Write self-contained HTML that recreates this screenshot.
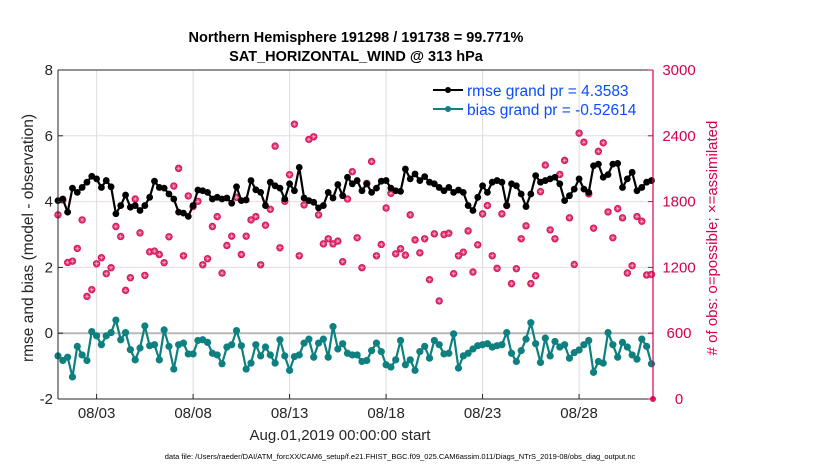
<!DOCTYPE html>
<html><head><meta charset="utf-8"><style>
body{margin:0;background:#fff}
svg{display:block;font-family:"Liberation Sans",Arial,sans-serif}
</style></head><body>
<svg id="chart" width="830" height="470" viewBox="0 0 830 470" xmlns="http://www.w3.org/2000/svg">
<rect width="830" height="470" fill="#fff"/>
<text x="356" y="42" font-size="14.5" font-weight="bold" text-anchor="middle">Northern Hemisphere 191298 / 191738 = 99.771%</text>
<text x="356" y="61" font-size="14.5" font-weight="bold" text-anchor="middle">SAT_HORIZONTAL_WIND @ 313 hPa</text>
<g id="grid"></g>
<g id="marks"></g>
<g id="axes"></g>
<text transform="translate(33,238) rotate(-90)" font-size="15.5" text-anchor="middle" fill="#262626">rmse and bias (model - observation)</text>
<text transform="translate(717,238) rotate(-90)" font-size="15" fill="#d6004f" text-anchor="middle"># of obs: o=possible; ×=assimilated</text>
<text x="340" y="440" font-size="15" text-anchor="middle" fill="#262626">Aug.01,2019 00:00:00 start</text>
<text x="400" y="459" font-size="7.5" text-anchor="middle">data file: /Users/raeder/DAI/ATM_forcXX/CAM6_setup/f.e21.FHIST_BGC.f09_025.CAM6assim.011/Diags_NTrS_2019-08/obs_diag_output.nc</text>
<g id="legend">
<line x1="433" y1="90" x2="463" y2="90" stroke="#000" stroke-width="2"/><circle cx="448" cy="90" r="3" fill="#000"/>
<text x="467" y="96" font-size="15.5" fill="#0a4dff">rmse grand pr = 4.3583</text>
<line x1="433" y1="109" x2="463" y2="109" stroke="#0e8080" stroke-width="2"/><circle cx="448" cy="109" r="3" fill="#0e8080"/>
<text x="467" y="115" font-size="15.5" fill="#0a4dff">bias grand pr = -0.52614</text>
</g>
</svg>
<script>
const rmse=[4.03,4.08,3.68,4.41,4.28,4.43,4.59,4.77,4.69,4.43,4.64,4.45,3.63,3.88,4.2,3.83,3.88,3.73,3.88,4.13,4.62,4.43,4.41,4.23,4.08,3.68,3.65,3.55,3.88,4.35,4.33,4.28,
4.08,4.13,4.08,4.11,3.95,4.45,4.03,4.05,4.64,4.36,4.28,3.88,4.59,4.48,4.41,4.08,4.54,4.33,5.04,4.11,4.03,3.98,3.81,3.88,4.28,4.11,4.52,4.18,4.74,4.54,
4.64,4.33,4.54,4.28,4.41,4.62,4.64,4.41,4.33,4.31,4.99,4.69,4.84,4.64,4.76,4.59,4.54,4.43,4.33,4.43,4.28,4.35,4.28,3.88,3.73,4.13,4.48,4.28,4.59,4.64,
4.59,3.88,4.54,4.48,4.23,3.85,4.23,4.79,4.59,4.64,4.69,4.74,4.54,4.03,4.18,4.38,4.69,4.38,4.28,5.09,5.14,4.74,4.82,5.14,5.16,4.43,4.69,4.89,4.33,4.43,4.59,4.64];
const bias=[-0.69,-0.83,-0.73,-1.33,-0.4,-0.66,-0.83,0.05,-0.08,-0.35,-0.08,0.02,0.4,-0.2,0.02,-0.5,-0.81,-0.45,0.22,-0.38,-0.35,-0.81,0.1,-0.4,-1.09,-0.35,-0.3,-0.63,-0.63,-0.22,-0.2,-0.28,
-0.61,-0.66,-0.93,-0.42,-0.35,0.08,-0.38,-1.09,-0.91,-0.35,-0.69,-0.42,-0.66,-0.91,-0.2,-0.69,-1.13,-0.71,-0.66,-0.3,-0.18,-0.73,-0.3,-0.18,-0.73,0.2,-0.48,-0.32,-0.61,-0.66,
-0.66,-0.86,-0.83,-0.53,-0.3,-0.56,-0.96,-1.03,-0.81,-0.22,-0.96,-0.81,-1.13,-0.56,-0.4,-0.76,-0.22,-0.35,-0.63,-0.61,-0.02,-1.06,-0.69,-0.61,-0.48,-0.38,-0.35,-0.32,-0.42,-0.38,
-0.35,0.02,-0.61,-0.86,-0.53,-0.18,0.32,-0.32,-0.89,-0.15,-0.69,-0.25,-0.42,-0.35,-0.76,-0.59,-0.51,-0.35,-0.22,-1.19,-0.86,-0.91,0.02,-0.35,-0.73,-0.28,-0.42,-0.66,-0.79,-0.18,-0.4,-0.93];
const obsCount=[1679,1815,1245,1257,1373,1633,936,997,1233,1288,1143,1197,1573,1482,991,1106,1824,1515,1127,1342,1349,1318,1243,1479,1942,2103,1306,1852,1755,1803,1224,1279,
1573,1663,1148,1400,1485,1839,1318,1485,1633,1663,1224,1585,1730,2306,1379,1803,2045,2506,1306,1770,2367,2391,1679,1415,1461,1415,1440,1252,1824,2073,
1470,1197,1966,2166,1306,1409,1742,1876,1324,1370,1312,1679,1451,1333,1461,1088,1506,894,1500,1512,1143,1306,1339,1533,1158,1406,1688,1764,1306,1191,
1688,1764,1052,1188,1461,1579,1052,1124,1891,2133,1542,1461,2048,2176,1652,1227,2424,2342,1870,1558,2258,2336,1706,1470,1736,1652,1149,1215,1664,1621,1131,1136];
const leftTicks=[-2,0,2,4,6,8];
const rightTicks=[0,600,1200,1800,2400,3000];
const xTickDays=[2,7,12,17,22,27];
const xTickLabels=["08/03","08/08","08/13","08/18","08/23","08/28"];
const stepDays=0.25;

const NS="http://www.w3.org/2000/svg";
const L=58,R=653,T=70,B=399,D0=0,D1=30.83;
const xs=d=>L+(d-D0)/(D1-D0)*(R-L);
const yl=v=>B-(v+2)/10*(B-T);
const yr=c=>B-c/3000*(B-T);
function mk(tag,at,parent){const e=document.createElementNS(NS,tag);for(const k in at)e.setAttribute(k,at[k]);parent.appendChild(e);return e;}
const grid=document.getElementById('grid'),marks=document.getElementById('marks'),axes=document.getElementById('axes');
xTickDays.forEach(d=>mk('line',{x1:xs(d),x2:xs(d),y1:T,y2:B,stroke:'#dcdcdc','stroke-width':1},grid));
[2,4,6].forEach(v=>mk('line',{x1:L,x2:R,y1:yl(v),y2:yl(v),stroke:'#f1d8e2','stroke-width':1},grid));
const zl=mk('line',{x1:L,x2:R,y1:yl(0),y2:yl(0),stroke:'#b8b8b8','stroke-width':2},grid);


obsCount.forEach((c,i)=>{const x=xs(i*stepDays),y=yr(c);
 const g=mk('g',{},marks);
 
 
 mk('circle',{cx:x,cy:y,r:3.7,fill:'#d81b60'},g);
 mk('path',{d:`M${x-2.4},${y}H${x+2.4}M${x},${y-2.4}V${y+2.4}M${x-1.7},${y-1.7}L${x+1.7},${y+1.7}M${x-1.7},${y+1.7}L${x+1.7},${y-1.7}`,stroke:'#f6c4d6','stroke-width':0.5},g);
});
const endObs=mk('circle',{cx:R,cy:B,r:3,fill:'#d81b60'},marks);


function series(arr,color,name,r){
 const pts=arr.map((v,i)=>[xs(i*stepDays),yl(v)]);
 const pl=mk('polyline',{points:pts.map(p=>p.join(',')).join(' '),fill:'none',stroke:color,'stroke-width':2.2},marks);
 
 
 pts.forEach(p=>{const c=mk('circle',{cx:p[0],cy:p[1],r:r,fill:color},marks);
  
  });
}
series(rmse,'#000','rmse',3.4);
series(bias,'#0e8080','bias',3.6);
mk('line',{x1:L,x2:R,y1:T,y2:T,stroke:'#262626','stroke-width':1},axes);
mk('line',{x1:L,x2:R,y1:B,y2:B,stroke:'#262626','stroke-width':1},axes);
mk('line',{x1:L,x2:L,y1:T,y2:B,stroke:'#262626','stroke-width':1},axes);
mk('line',{x1:R,x2:R,y1:T,y2:B,stroke:'#d6004f','stroke-width':1.2},axes);
leftTicks.forEach(v=>{const y=yl(v);
 mk('line',{x1:L,x2:L+5,y1:y,y2:y,stroke:'#262626'},axes);
 const t=mk('text',{x:L-5,y:y+5,'font-size':15,'text-anchor':'end',fill:'#262626'},axes);t.textContent=v;
 
 });
rightTicks.forEach(c=>{const y=yr(c);
 mk('line',{x1:R-5,x2:R,y1:y,y2:y,stroke:'#d6004f'},axes);
 const t=mk('text',{x:679,y:y+5,'font-size':15,'text-anchor':'middle',fill:'#d6004f'},axes);t.textContent=c;
 
 });
xTickDays.forEach((d,i)=>{const x=xs(d);
 mk('line',{x1:x,x2:x,y1:B,y2:B-5,stroke:'#262626'},axes);
 const t=mk('text',{x:x,y:B+19,'font-size':15,'text-anchor':'middle',fill:'#262626'},axes);t.textContent=xTickLabels[i];
 
 });
</script>
</body></html>
